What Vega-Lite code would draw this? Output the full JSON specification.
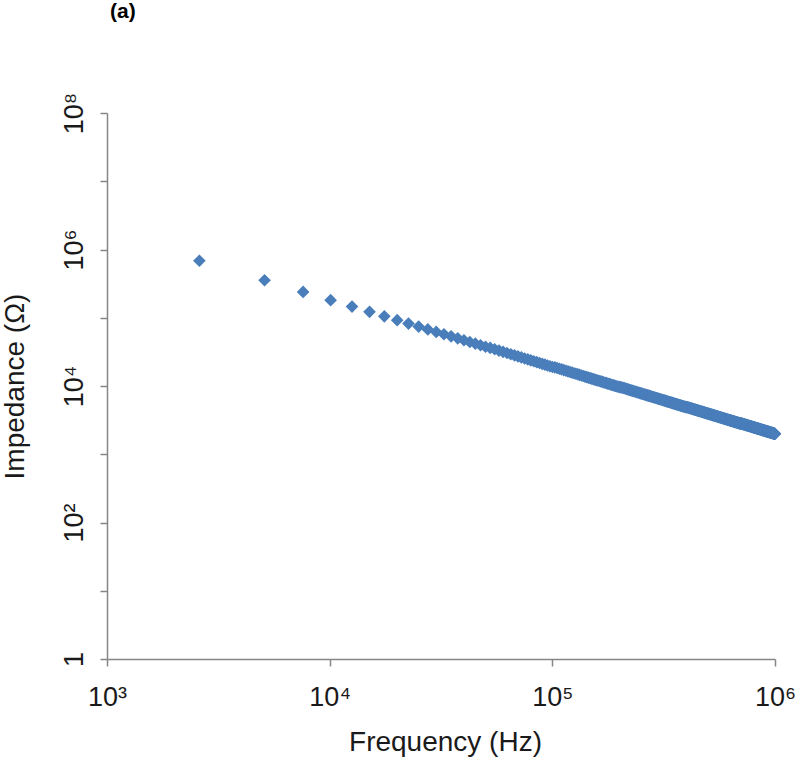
{
 "$schema": "https://vega.github.io/schema/vega-lite/v6.json",
 "width": 668,
 "height": 546,
 "autosize": {"type": "none"},
 "padding": {"left": 107, "top": 113, "right": 25, "bottom": 99},
 "background": "white",
 "title": {"text": "(a)", "anchor": "start", "frame": "group", "fontSize": 21, "fontWeight": "bold", "font": "Liberation Sans", "color": "#000000", "offset": 70, "dx": 3},
 "config": {
  "view": {"stroke": null},
  "axis": {
   "grid": false,
   "domainColor": "#868686",
   "domainWidth": 1.5,
   "tickColor": "#868686",
   "tickWidth": 1.5,
   "tickSize": 7,
   "labelFont": "Liberation Sans",
   "labelFontSize": 27,
   "labelColor": "#1a1a1a",
   "titleFont": "Liberation Sans",
   "titleFontSize": 28,
   "titleFontWeight": "normal",
   "titleColor": "#1a1a1a"
  }
 },
 "data": {"values": [
{"f":2600,"z":685000},{"f":5100,"z":354000},{"f":7600,"z":239300},{"f":10100,"z":181100},{"f":12600,"z":145800},{"f":15100,"z":122000},{"f":17600,"z":105000},{"f":20100,"z":92190},{"f":22600,"z":82170},{"f":25100,"z":74140},
{"f":27600,"z":67540},{"f":30100,"z":62030},{"f":32600,"z":57360},{"f":35100,"z":53360},{"f":37600,"z":49870},{"f":40100,"z":46820},{"f":42600,"z":44130},{"f":45100,"z":41730},{"f":47600,"z":39580},{"f":50100,"z":37620},
{"f":52600,"z":36190},{"f":55100,"z":34550},{"f":57600,"z":33040},{"f":60100,"z":31670},{"f":62600,"z":30400},{"f":65100,"z":29230},{"f":67600,"z":28150},{"f":70100,"z":27140},{"f":72600,"z":26210},{"f":75100,"z":25330},
{"f":77600,"z":24520},{"f":80100,"z":23750},{"f":82600,"z":23030},{"f":85100,"z":22350},{"f":87600,"z":21710},{"f":90100,"z":21110},{"f":92600,"z":20540},{"f":95100,"z":20000},{"f":97600,"z":19490},{"f":100100,"z":19000},
{"f":102600,"z":18780},{"f":105100,"z":18330},{"f":107600,"z":17910},{"f":110100,"z":17500},{"f":112600,"z":17110},{"f":115100,"z":16740},{"f":117600,"z":16380},{"f":120100,"z":16040},{"f":122600,"z":15710},{"f":125100,"z":15400},
{"f":127600,"z":15100},{"f":130100,"z":14810},{"f":132600,"z":14530},{"f":135100,"z":14260},{"f":137600,"z":14000},{"f":140100,"z":13750},{"f":142600,"z":13510},{"f":145100,"z":13280},{"f":147600,"z":13050},{"f":150100,"z":12830},
{"f":152600,"z":12620},{"f":155100,"z":12420},{"f":157600,"z":12220},{"f":160100,"z":12030},{"f":162600,"z":11850},{"f":165100,"z":11670},{"f":167600,"z":11490},{"f":170100,"z":11320},{"f":172600,"z":11160},{"f":175100,"z":11000},
{"f":177600,"z":10850},{"f":180100,"z":10690},{"f":182600,"z":10550},{"f":185100,"z":10410},{"f":187600,"z":10270},{"f":190100,"z":10130},{"f":192600,"z":10000},{"f":195100,"z":9870},{"f":197600,"z":9750},{"f":200100,"z":9630},
{"f":202600,"z":9630},{"f":205100,"z":9512},{"f":207600,"z":9398},{"f":210100,"z":9286},{"f":212600,"z":9176},{"f":215100,"z":9070},{"f":217600,"z":8966},{"f":220100,"z":8864},{"f":222600,"z":8764},{"f":225100,"z":8667},
{"f":227600,"z":8571},{"f":230100,"z":8478},{"f":232600,"z":8387},{"f":235100,"z":8298},{"f":237600,"z":8211},{"f":240100,"z":8125},{"f":242600,"z":8041},{"f":245100,"z":7959},{"f":247600,"z":7879},{"f":250100,"z":7800},
{"f":252600,"z":7723},{"f":255100,"z":7647},{"f":257600,"z":7573},{"f":260100,"z":7500},{"f":262600,"z":7429},{"f":265100,"z":7358},{"f":267600,"z":7290},{"f":270100,"z":7222},{"f":272600,"z":7156},{"f":275100,"z":7091},
{"f":277600,"z":7027},{"f":280100,"z":6964},{"f":282600,"z":6903},{"f":285100,"z":6842},{"f":287600,"z":6783},{"f":290100,"z":6724},{"f":292600,"z":6667},{"f":295100,"z":6610},{"f":297600,"z":6555},{"f":300100,"z":6500},
{"f":302600,"z":6446},{"f":305100,"z":6393},{"f":307600,"z":6341},{"f":310100,"z":6290},{"f":312600,"z":6240},{"f":315100,"z":6190},{"f":317600,"z":6142},{"f":320100,"z":6094},{"f":322600,"z":6047},{"f":325100,"z":6000},
{"f":327600,"z":5954},{"f":330100,"z":5909},{"f":332600,"z":5865},{"f":335100,"z":5821},{"f":337600,"z":5778},{"f":340100,"z":5735},{"f":342600,"z":5693},{"f":345100,"z":5652},{"f":347600,"z":5612},{"f":350100,"z":5571},
{"f":352600,"z":5532},{"f":355100,"z":5493},{"f":357600,"z":5455},{"f":360100,"z":5417},{"f":362600,"z":5379},{"f":365100,"z":5342},{"f":367600,"z":5306},{"f":370100,"z":5270},{"f":372600,"z":5235},{"f":375100,"z":5200},
{"f":377600,"z":5166},{"f":380100,"z":5132},{"f":382600,"z":5098},{"f":385100,"z":5065},{"f":387600,"z":5032},{"f":390100,"z":5000},{"f":392600,"z":4968},{"f":395100,"z":4937},{"f":397600,"z":4906},{"f":400100,"z":4875},
{"f":402600,"z":4894},{"f":405100,"z":4864},{"f":407600,"z":4834},{"f":410100,"z":4805},{"f":412600,"z":4776},{"f":415100,"z":4747},{"f":417600,"z":4719},{"f":420100,"z":4690},{"f":422600,"z":4663},{"f":425100,"z":4635},
{"f":427600,"z":4608},{"f":430100,"z":4581},{"f":432600,"z":4555},{"f":435100,"z":4529},{"f":437600,"z":4503},{"f":440100,"z":4477},{"f":442600,"z":4452},{"f":445100,"z":4427},{"f":447600,"z":4402},{"f":450100,"z":4378},
{"f":452600,"z":4354},{"f":455100,"z":4330},{"f":457600,"z":4306},{"f":460100,"z":4283},{"f":462600,"z":4259},{"f":465100,"z":4237},{"f":467600,"z":4214},{"f":470100,"z":4191},{"f":472600,"z":4169},{"f":475100,"z":4147},
{"f":477600,"z":4126},{"f":480100,"z":4104},{"f":482600,"z":4083},{"f":485100,"z":4062},{"f":487600,"z":4041},{"f":490100,"z":4020},{"f":492600,"z":4000},{"f":495100,"z":3980},{"f":497600,"z":3960},{"f":500100,"z":3940},
{"f":502600,"z":3920},{"f":505100,"z":3901},{"f":507600,"z":3882},{"f":510100,"z":3863},{"f":512600,"z":3844},{"f":515100,"z":3825},{"f":517600,"z":3807},{"f":520100,"z":3788},{"f":522600,"z":3770},{"f":525100,"z":3752},
{"f":527600,"z":3735},{"f":530100,"z":3717},{"f":532600,"z":3700},{"f":535100,"z":3682},{"f":537600,"z":3665},{"f":540100,"z":3648},{"f":542600,"z":3631},{"f":545100,"z":3615},{"f":547600,"z":3598},{"f":550100,"z":3582},
{"f":552600,"z":3566},{"f":555100,"z":3550},{"f":557600,"z":3534},{"f":560100,"z":3518},{"f":562600,"z":3502},{"f":565100,"z":3487},{"f":567600,"z":3471},{"f":570100,"z":3456},{"f":572600,"z":3441},{"f":575100,"z":3426},
{"f":577600,"z":3411},{"f":580100,"z":3397},{"f":582600,"z":3382},{"f":585100,"z":3368},{"f":587600,"z":3353},{"f":590100,"z":3339},{"f":592600,"z":3325},{"f":595100,"z":3311},{"f":597600,"z":3297},{"f":600100,"z":3283},
{"f":602600,"z":3270},{"f":605100,"z":3256},{"f":607600,"z":3243},{"f":610100,"z":3230},{"f":612600,"z":3216},{"f":615100,"z":3203},{"f":617600,"z":3190},{"f":620100,"z":3177},{"f":622600,"z":3165},{"f":625100,"z":3152},
{"f":627600,"z":3139},{"f":630100,"z":3127},{"f":632600,"z":3115},{"f":635100,"z":3102},{"f":637600,"z":3090},{"f":640100,"z":3078},{"f":642600,"z":3066},{"f":645100,"z":3054},{"f":647600,"z":3042},{"f":650100,"z":3031},
{"f":652600,"z":3019},{"f":655100,"z":3008},{"f":657600,"z":2996},{"f":660100,"z":2985},{"f":662600,"z":2974},{"f":665100,"z":2962},{"f":667600,"z":2951},{"f":670100,"z":2940},{"f":672600,"z":2929},{"f":675100,"z":2919},
{"f":677600,"z":2908},{"f":680100,"z":2897},{"f":682600,"z":2886},{"f":685100,"z":2876},{"f":687600,"z":2865},{"f":690100,"z":2855},{"f":692600,"z":2845},{"f":695100,"z":2835},{"f":697600,"z":2824},{"f":700100,"z":2814},
{"f":702600,"z":2833},{"f":705100,"z":2823},{"f":707600,"z":2813},{"f":710100,"z":2803},{"f":712600,"z":2793},{"f":715100,"z":2783},{"f":717600,"z":2774},{"f":720100,"z":2764},{"f":722600,"z":2754},{"f":725100,"z":2745},
{"f":727600,"z":2735},{"f":730100,"z":2726},{"f":732600,"z":2717},{"f":735100,"z":2707},{"f":737600,"z":2698},{"f":740100,"z":2689},{"f":742600,"z":2680},{"f":745100,"z":2671},{"f":747600,"z":2662},{"f":750100,"z":2653},
{"f":752600,"z":2645},{"f":755100,"z":2636},{"f":757600,"z":2627},{"f":760100,"z":2618},{"f":762600,"z":2610},{"f":765100,"z":2601},{"f":767600,"z":2593},{"f":770100,"z":2584},{"f":772600,"z":2576},{"f":775100,"z":2568},
{"f":777600,"z":2559},{"f":780100,"z":2551},{"f":782600,"z":2543},{"f":785100,"z":2535},{"f":787600,"z":2527},{"f":790100,"z":2519},{"f":792600,"z":2511},{"f":795100,"z":2503},{"f":797600,"z":2495},{"f":800100,"z":2488},
{"f":802600,"z":2480},{"f":805100,"z":2472},{"f":807600,"z":2464},{"f":810100,"z":2457},{"f":812600,"z":2449},{"f":815100,"z":2442},{"f":817600,"z":2434},{"f":820100,"z":2427},{"f":822600,"z":2419},{"f":825100,"z":2412},
{"f":827600,"z":2405},{"f":830100,"z":2398},{"f":832600,"z":2390},{"f":835100,"z":2383},{"f":837600,"z":2376},{"f":840100,"z":2369},{"f":842600,"z":2362},{"f":845100,"z":2355},{"f":847600,"z":2348},{"f":850100,"z":2341},
{"f":852600,"z":2334},{"f":855100,"z":2327},{"f":857600,"z":2321},{"f":860100,"z":2314},{"f":862600,"z":2307},{"f":865100,"z":2301},{"f":867600,"z":2294},{"f":870100,"z":2287},{"f":872600,"z":2281},{"f":875100,"z":2274},
{"f":877600,"z":2268},{"f":880100,"z":2261},{"f":882600,"z":2255},{"f":885100,"z":2249},{"f":887600,"z":2242},{"f":890100,"z":2236},{"f":892600,"z":2230},{"f":895100,"z":2223},{"f":897600,"z":2217},{"f":900100,"z":2211},
{"f":902600,"z":2205},{"f":905100,"z":2199},{"f":907600,"z":2193},{"f":910100,"z":2187},{"f":912600,"z":2181},{"f":915100,"z":2175},{"f":917600,"z":2169},{"f":920100,"z":2163},{"f":922600,"z":2157},{"f":925100,"z":2151},
{"f":927600,"z":2146},{"f":930100,"z":2140},{"f":932600,"z":2134},{"f":935100,"z":2128},{"f":937600,"z":2123},{"f":940100,"z":2117},{"f":942600,"z":2111},{"f":945100,"z":2106},{"f":947600,"z":2100},{"f":950100,"z":2095},
{"f":952600,"z":2089},{"f":955100,"z":2084},{"f":957600,"z":2078},{"f":960100,"z":2073},{"f":962600,"z":2068},{"f":965100,"z":2062},{"f":967600,"z":2057},{"f":970100,"z":2052},{"f":972600,"z":2046},{"f":975100,"z":2041},
{"f":977600,"z":2036},{"f":980100,"z":2031},{"f":982600,"z":2025},{"f":985100,"z":2020},{"f":987600,"z":2015},{"f":990100,"z":2010},{"f":992600,"z":2005},{"f":995100,"z":2000},{"f":997600,"z":1995},{"f":1000000,"z":1990}
 ]},
 "mark": {"type": "point", "shape": "diamond", "filled": true, "size": 160, "color": "#4A7EBB", "opacity": 1, "strokeWidth": 0},
 "encoding": {
  "x": {
   "field": "f", "type": "quantitative",
   "scale": {"type": "log", "domain": [1000, 1000000], "nice": false},
   "axis": {
    "title": "Frequency (Hz)",
    "values": [1000, 10000, 100000, 1000000],
    "labelExpr": "datum.value == 1000 ? '10³' : datum.value == 10000 ? '10⁴' : datum.value == 100000 ? '10⁵' : '10⁶'",
    "labelBaseline": "alphabetic",
    "labelPadding": 39,
    "labelFlush": false,
    "titleX": 338,
    "titleY": 91,
    "titleBaseline": "alphabetic",
    "titleAlign": "center"
   }
  },
  "y": {
   "field": "z", "type": "quantitative",
   "scale": {"type": "log", "domain": [1, 100000000], "nice": false},
   "axis": {
    "title": "Impedance (Ω)",
    "values": [1, 10, 100, 1000, 10000, 100000, 1000000, 10000000, 100000000],
    "labelExpr": "datum.value == 1 ? '1' : datum.value == 100 ? '10²' : datum.value == 10000 ? '10⁴' : datum.value == 1000000 ? '10⁶' : datum.value == 100000000 ? '10⁸' : ''",
    "labelAngle": -90,
    "labelAlign": "center",
    "labelBaseline": "alphabetic",
    "labelPadding": 18,
    "labelFlush": false,
    "labelOverlap": false,
    "titleAngle": -90,
    "titleX": -84,
    "titleY": 273,
    "titleBaseline": "alphabetic",
    "titleAlign": "center"
   }
  }
 }
}
